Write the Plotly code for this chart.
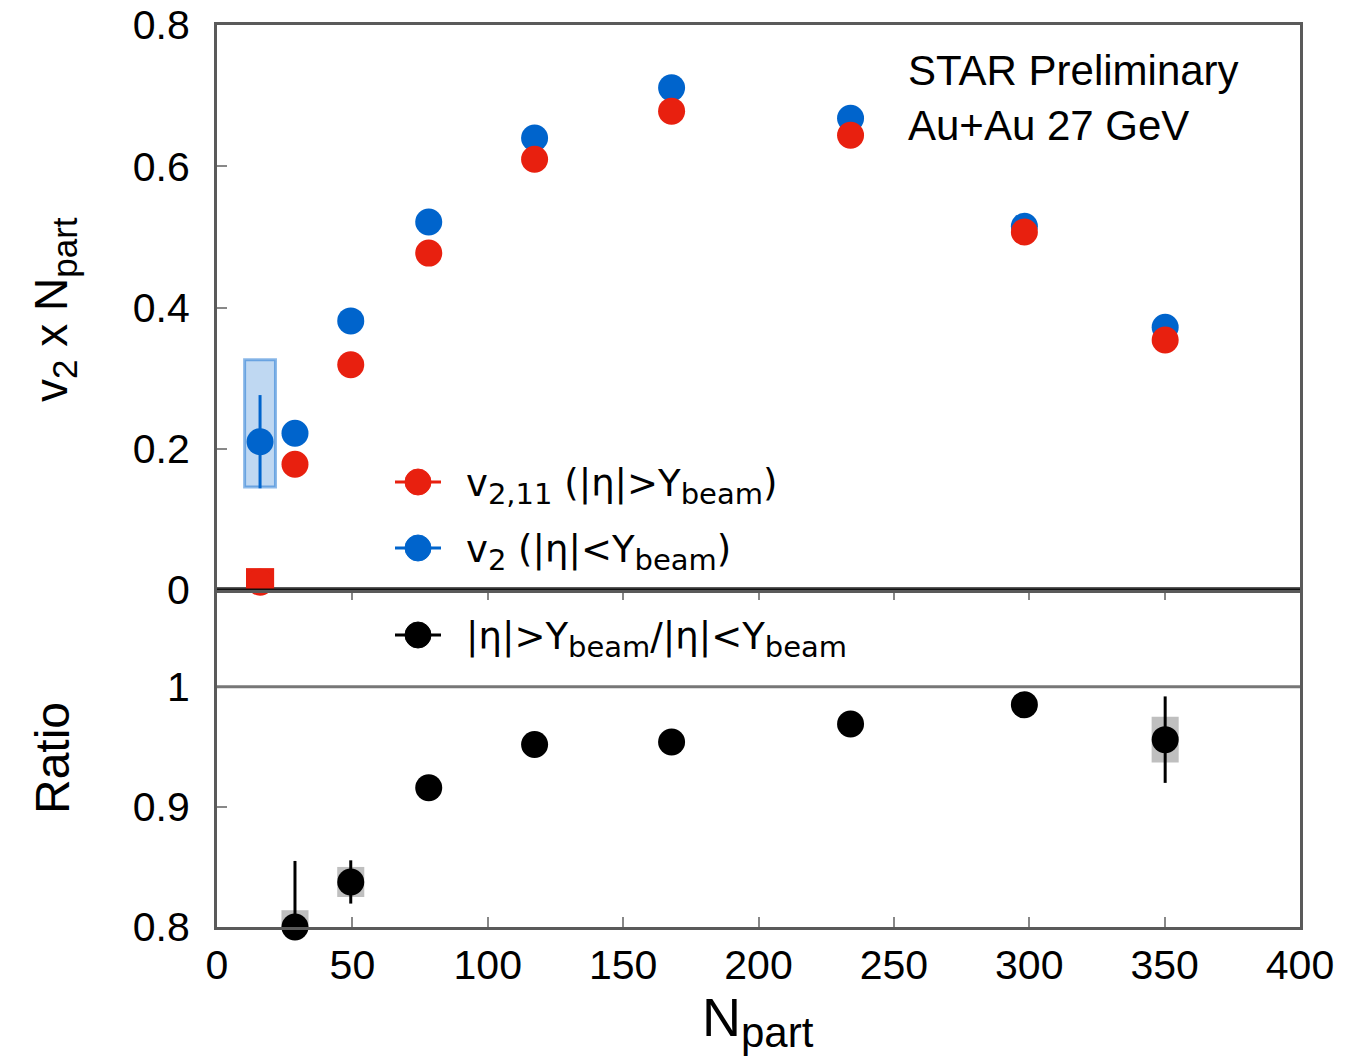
import plotly.graph_objects as go

# ---------------- data ----------------
npart = [15.9, 28.8, 49.4, 78.2, 117.3, 167.9, 234.0, 298.2, 350.2]
v2_inner = [0.210, 0.222, 0.381, 0.521, 0.640, 0.711, 0.668, 0.515, 0.372]   # |eta|<Ybeam (blue)
v2_inner_err = [0.066, 0, 0, 0, 0, 0, 0, 0, 0]
v2_outer = [0.011, 0.178, 0.319, 0.477, 0.610, 0.678, 0.644, 0.507, 0.354]   # |eta|>Ybeam (red)

ratio_npart = [28.8, 49.4, 78.2, 117.3, 167.9, 234.0, 298.2, 350.2]
ratio = [0.800, 0.8375, 0.916, 0.952, 0.954, 0.969, 0.985, 0.956]
ratio_err_plus = [0.055, 0.018, 0, 0, 0, 0, 0, 0.036]
ratio_err_minus = [0.0, 0.018, 0, 0, 0, 0, 0, 0.036]

# systematic boxes: (x, half-width, y_low, y_high)
blue_sys = [(15.9, 5.7, 0.146, 0.326)]
red_sys = [(15.9, 5.2, -0.009, 0.031)]
ratio_sys = [(28.8, 5.0, 0.786, 0.814), (49.4, 5.0, 0.825, 0.850), (350.2, 5.0, 0.937, 0.975)]

top_ticks = [0, 0.2, 0.4, 0.6, 0.8]
top_ticktext = ["0", "0.2", "0.4", "0.6", "0.8"]
bot_ticks = [0.8, 0.9, 1.0]
bot_ticktext = ["0.8", "0.9", "1"]
x_ticks = [0, 50, 100, 150, 200, 250, 300, 350, 400]

RED = "#e8200f"
BLUE = "#0064cc"
BLACK = "#000000"
FONT = "Liberation Sans, Arial, sans-serif"
LFONT = "DejaVu Sans, sans-serif"
FRAME = "#5a5a5a"

W, H = 1348, 1062
ML, MR, MT, MB = 217, 48, 25, 135
PW, PH = W - ML - MR, H - MT - MB
split = 337 / PH


def px(xp):
    return (xp - ML) / PW


def py(yp):
    return (H - MB - yp) / PH


def sub(t, size):
    return '<sub><span style="font-size:%dpx">%s</span></sub>' % (size, t)


fig = go.Figure()

fig.add_trace(go.Scatter(
    x=npart, y=v2_inner, mode="markers", xaxis="x2", yaxis="y2",
    marker=dict(color=BLUE, size=27),
    error_y=dict(type="data", array=v2_inner_err, color=BLUE, thickness=3, width=0),
    cliponaxis=False, showlegend=False))
fig.add_trace(go.Scatter(
    x=npart, y=v2_outer, mode="markers", xaxis="x2", yaxis="y2",
    marker=dict(color=RED, size=27),
    cliponaxis=False, showlegend=False))
fig.add_trace(go.Scatter(
    x=ratio_npart, y=ratio, mode="markers", xaxis="x", yaxis="y",
    marker=dict(color=BLACK, size=27),
    error_y=dict(type="data", array=ratio_err_plus, arrayminus=ratio_err_minus,
                 color=BLACK, thickness=3, width=0),
    cliponaxis=False, showlegend=False))

shapes = []
for (xc, hw, lo, hi) in blue_sys:
    shapes.append(dict(type="rect", xref="x2", yref="y2", x0=xc - hw, x1=xc + hw, y0=lo, y1=hi,
                       fillcolor="rgba(0,100,204,0.25)", line=dict(color="rgba(0,100,204,0.45)", width=3),
                       layer="below"))
for (xc, hw, lo, hi) in red_sys:
    shapes.append(dict(type="rect", xref="x2", yref="y2", x0=xc - hw, x1=xc + hw, y0=lo, y1=hi,
                       fillcolor=RED, line=dict(width=0), layer="below"))
for (xc, hw, lo, hi) in ratio_sys:
    shapes.append(dict(type="rect", xref="x", yref="y", x0=xc - hw, x1=xc + hw, y0=lo, y1=hi,
                       fillcolor="rgba(0,0,0,0.25)", line=dict(width=0), layer="below"))

# reference lines
shapes.append(dict(type="line", xref="x2 domain", yref="y2", x0=0, x1=1, y0=0, y1=0,
                   line=dict(color="#111111", width=3)))
shapes.append(dict(type="line", xref="x domain", yref="y", x0=0, x1=1, y0=1, y1=1,
                   line=dict(color="#777777", width=3)))

# legend glyphs
legend_items = [
    (RED, 482, "v" + sub("2,11", 29) + " (|η|>Y" + sub("beam", 29) + ")"),
    (BLUE, 548, "v" + sub("2", 29) + " (|η|<Y" + sub("beam", 29) + ")"),
    (BLACK, 635, "|η|>Y" + sub("beam", 29) + "/|η|<Y" + sub("beam", 29)),
]
annotations = []
for col, ypix, label in legend_items:
    shapes.append(dict(type="line", xref="paper", yref="paper", xsizemode="pixel", ysizemode="pixel",
                       xanchor=px(418), yanchor=py(ypix), x0=-23, x1=23, y0=0, y1=0,
                       line=dict(color=col, width=3)))
    shapes.append(dict(type="circle", xref="paper", yref="paper", xsizemode="pixel", ysizemode="pixel",
                       xanchor=px(418), yanchor=py(ypix), x0=-13, x1=13, y0=-13, y1=13,
                       fillcolor=col, line=dict(color=col, width=1)))
    annotations.append(dict(text=label, xref="paper", yref="paper", x=px(464), y=py(ypix + 4),
                            xanchor="left", yanchor="middle", showarrow=False,
                            font=dict(family=LFONT, size=37, color="black")))

annotations += [
    dict(text="STAR Preliminary", xref="paper", yref="paper", x=px(906), y=py(70),
         xanchor="left", yanchor="middle", showarrow=False, font=dict(family=FONT, size=42, color="black")),
    dict(text="Au+Au 27 GeV", xref="paper", yref="paper", x=px(906), y=py(126),
         xanchor="left", yanchor="middle", showarrow=False, font=dict(family=FONT, size=42, color="black")),
    dict(text="v" + sub("2", 35) + " x N" + sub("part", 35), xref="paper", yref="paper", x=px(55), y=py(310),
         xanchor="center", yanchor="middle", textangle=-90, showarrow=False,
         font=dict(family=FONT, size=46, color="black")),
    dict(text="Ratio", xref="paper", yref="paper", x=px(52), y=py(758),
         xanchor="center", yanchor="middle", textangle=-90, showarrow=False,
         font=dict(family=FONT, size=48, color="black")),
    dict(text="N" + sub("part", 42), xref="paper", yref="paper", x=px(758), y=py(985),
         xanchor="center", yanchor="top", showarrow=False,
         font=dict(family=FONT, size=54, color="black")),
]

axis_common = dict(showline=True, linecolor=FRAME, linewidth=3, showgrid=False, zeroline=False,
                   tickfont=dict(family=FONT, size=41, color="black"))

fig.update_layout(
    width=W, height=H,
    margin=dict(l=ML, r=MR, t=MT, b=MB, autoexpand=False),
    paper_bgcolor="white", plot_bgcolor="white",
    showlegend=False,
    shapes=shapes, annotations=annotations,
    xaxis=dict(domain=[0, 1], range=[0, 400], anchor="y", tickvals=x_ticks,
               ticks="inside", ticklen=10, tickwidth=2, tickcolor="#888888", mirror="ticks",
               ticklabelstandoff=0, **axis_common),
    yaxis=dict(domain=[0, split], range=[0.8, 1.0806], anchor="x", tickvals=bot_ticks,
               ticktext=bot_ticktext, ticks="inside", ticklen=10, tickwidth=2, tickcolor="#888888",
               mirror=True, ticklabelstandoff=16, **axis_common),
    xaxis2=dict(domain=[0, 1], range=[0, 400], anchor="y2", matches="x", showticklabels=False,
                ticks="", mirror=True, **axis_common),
    yaxis2=dict(domain=[split, 1], range=[0, 0.8], anchor="x2", tickvals=top_ticks,
                ticktext=top_ticktext, ticks="inside", ticklen=10, tickwidth=2, tickcolor="#888888",
                mirror=True, ticklabelstandoff=16, **axis_common),
)

fig.write_html("out.html")
